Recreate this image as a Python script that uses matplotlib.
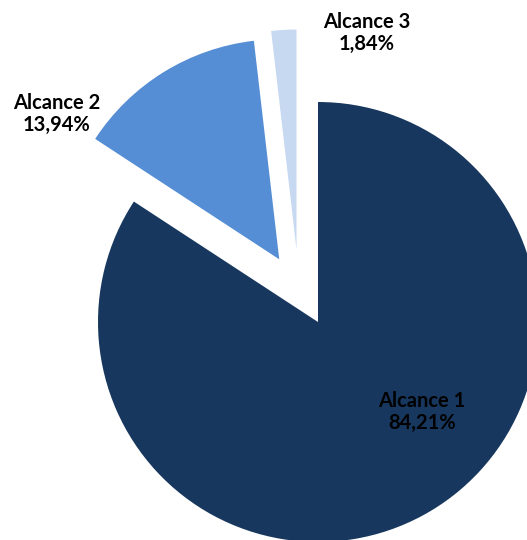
import matplotlib.pyplot as plt
import numpy as np

labels = ['Alcance 1', 'Alcance 2', 'Alcance 3']
shares = [84.21, 13.94, 1.84]
colors = ['#17375E', '#558ED5', '#C6D9F1']

# pixel layout of the reference (center of the pie, radius)
cx, cy, r = 318, 322, 220
W, H = 527, 540

fig = plt.figure(figsize=(W / 100, H / 100), dpi=100)
ax = fig.add_axes([0, 0, 1, 1])

wedges, _ = ax.pie(shares, colors=colors, startangle=90, counterclock=False,
                   explode=[0, 0.335, 0.34], radius=1,
                   wedgeprops=dict(linewidth=0))

# Excel pushes the small slice a bit more to the left
c3 = wedges[2].center
wedges[2].set_center((c3[0] - 0.078, c3[1] - 0.01))

ax.set_xlim(-cx / r, (W - cx) / r)
ax.set_ylim((cy - H) / r, cy / r)
ax.set_aspect('auto')
ax.axis('off')

# label positions in pixels (Excel best fit)
label_px = [(422, 412), (57, 114), (367, 33)]
for lab, val, (px, py) in zip(labels, shares, label_px):
    txt = lab + '\n' + ('%.2f' % val).replace('.', ',') + '%'
    ax.text((px - cx) / r, (cy - py) / r, txt, ha='center', va='center',
            fontsize=14.5, fontweight='bold', family='Lato', color='black',
            linespacing=1.15)

fig.savefig('out.png', dpi=100)
